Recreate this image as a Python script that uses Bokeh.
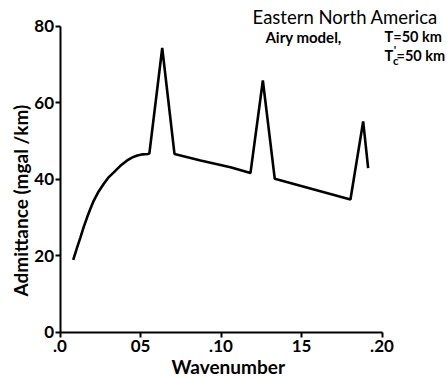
import math
from bokeh.plotting import figure
from bokeh.models import Range1d, FixedTicker, Label, ColumnDataSource, LinearAxis
from bokeh.embed import file_html
from bokeh.resources import INLINE

# ---- data ----
wavenumber = [0.0082, 0.0105, 0.0127, 0.0148, 0.0169, 0.0190, 0.0210, 0.0240,
              0.0272, 0.0300, 0.0334, 0.0375, 0.0417, 0.0450, 0.0480, 0.0515,
              0.0545, 0.0555, 0.0635, 0.0711, 0.0873, 0.1059, 0.1183, 0.1260,
              0.1334, 0.1804, 0.1883, 0.1914]
admittance = [18.9, 22.0, 24.8, 27.6, 30.1, 32.4, 34.4, 36.8,
              38.8, 40.4, 41.8, 43.5, 44.9, 45.7, 46.2, 46.5,
              46.6, 46.7, 74.3, 46.6, 44.9, 43.1, 41.6, 65.8,
              40.1, 34.7, 55.1, 42.9]

x_ticks = [0.0, 0.05, 0.10, 0.15, 0.20]
x_tick_labels = [".0", "05", ".10", "15", ".20"]
y_ticks = [0, 20, 40, 60, 80]
y_tick_labels = ["0", "20", "40", "60", "80"]

title_line = "Eastern North America"
model_text = "Airy model,"
t_text = "T=50 km"
x_label = "Wavenumber"
y_label = "Admittance (mgal /km)"

FONT = "Lato"

# plot area fills the canvas; axes are pinned at x=0 / y=0
XPX = 1610.0   # pixels per unit wavenumber
YPX = 3.825    # pixels per mgal/km
x0_px, y0_px = 59.5, 331.7
W, H = 447, 378

p = figure(width=W, height=H, min_border=0,
           x_range=Range1d(-x0_px / XPX, (W - x0_px) / XPX),
           y_range=Range1d(-(H - y0_px) / YPX, y0_px / YPX),
           x_axis_location=None, y_axis_location=None,
           output_backend="svg", toolbar_location=None)
p.outline_line_color = None
p.xgrid.visible = False
p.ygrid.visible = False
p.background_fill_color = "white"
p.border_fill_color = "white"

src = ColumnDataSource(dict(x=wavenumber, y=admittance))
p.line("x", "y", source=src, line_color="black", line_width=2.6)

xaxis = LinearAxis(fixed_location=0, bounds=(x_ticks[0], x_ticks[-1]))
yaxis = LinearAxis(fixed_location=0, bounds=(y_ticks[0], y_ticks[-1]))
p.add_layout(xaxis, "below")
p.add_layout(yaxis, "left")

for ax, ticks, labels in ((xaxis, x_ticks, x_tick_labels),
                          (yaxis, y_ticks, y_tick_labels)):
    ax.ticker = FixedTicker(ticks=ticks)
    ax.major_label_overrides = {t: l for t, l in zip(ticks, labels)}
    ax.axis_line_width = 2
    ax.axis_line_color = "black"
    ax.major_tick_line_width = 2
    ax.major_tick_line_color = "black"
    ax.major_tick_out = 5
    ax.major_tick_in = 0
    ax.minor_tick_out = 0
    ax.minor_tick_in = 0
    ax.major_label_text_font = FONT
    ax.major_label_text_font_style = "bold"
    ax.major_label_text_font_size = "17px"
    ax.major_label_text_color = "black"
xaxis.major_label_standoff = 3
yaxis.major_label_standoff = 1

# axis titles
p.add_layout(Label(x=0.1045, y=-9.0, text=x_label, text_align="center",
                   text_baseline="middle", text_font=FONT, text_font_style="bold",
                   text_font_size="19px", text_color="black"))
p.add_layout(Label(x=-0.0245, y=34.4, text=y_label, angle=math.pi / 2,
                   text_align="center", text_baseline="middle", text_font=FONT,
                   text_font_style="bold", text_font_size="19px", text_color="black"))

# annotation block top right
def lab(x, y, text, size, bold=True, align="left"):
    p.add_layout(Label(x=x, y=y, text=text, text_align=align, text_baseline="middle",
                       text_font=FONT, text_font_style="bold" if bold else "normal",
                       text_font_size=size, text_color="black"))

lab(0.1196, 82.5, title_line, "18.5px", bold=False)
lab(0.1276, 77.2, model_text, "15px")
lab(0.2016, 77.2, t_text, "14.5px")
lab(0.2016, 72.4, "T", "14.5px")
lab(0.2068, 71.0, "c", "11.5px")
lab(0.2073, 74.0, "'", "11.5px")
lab(0.2090, 72.4, "=50 km", "14.5px")

open("out.html", "w").write(file_html(p, INLINE))
